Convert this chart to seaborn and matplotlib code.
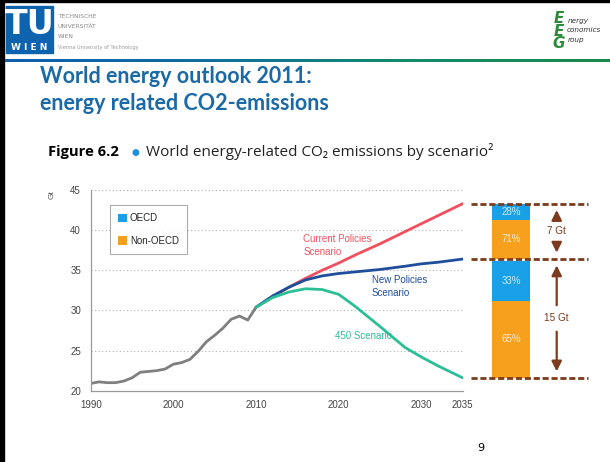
import numpy as np
import pandas as pd
import matplotlib
matplotlib.use("Agg")
import matplotlib.pyplot as plt
from matplotlib.patches import Rectangle, Patch
import seaborn as sns

# ---- data (Gt CO2) ----
hist_years = list(range(1990, 2011))
hist_values = [20.9, 21.1, 21.0, 21.0, 21.2, 21.6, 22.3, 22.4, 22.5, 22.7, 23.3,
               23.5, 23.9, 24.9, 26.1, 26.9, 27.8, 28.9, 29.3, 28.8, 30.4]

scen_years = [2010, 2012, 2014, 2016, 2018, 2020, 2022, 2025, 2028, 2030, 2032, 2035]
current_policies = [30.4, 31.7, 32.9, 34.0, 35.0, 35.9, 36.9, 38.3, 39.8, 40.8, 41.8, 43.3]
new_policies = [30.4, 31.8, 32.9, 33.8, 34.3, 34.6, 34.8, 35.1, 35.5, 35.8, 36.0, 36.4]
scenario_450 = [30.4, 31.6, 32.3, 32.7, 32.6, 32.0, 30.5, 28.0, 25.4, 24.2, 23.1, 21.6]

scenario_names = ["Current Policies\nScenario", "New Policies\nScenario", "450 Scenario"]
scenario_colors = ["#f0505e", "#1f4e9c", "#2bbf96"]

# regional split of the 2035 gaps (percent)
upper_gap_shares = {"OECD": 28, "Non-OECD": 71}
lower_gap_shares = {"OECD": 33, "Non-OECD": 65}
region_colors = {"OECD": "#1aa0e6", "Non-OECD": "#f7a01e"}

y_ticks = [20, 25, 30, 35, 40, 45]
x_labels = [1990, 2000, 2010, 2020, 2030, 2035]

# ---- figure ----
sns.set_theme(style="white")
narrow = ["Liberation Sans", "DejaVu Sans"]
plt.rcParams["font.family"] = ["DejaVu Sans"]

W, H = 610, 462
fig = plt.figure(figsize=(W / 100, H / 100), dpi=100)
fig.patch.set_facecolor("white")

# slide decoration layer in pixel coordinates
deco = fig.add_axes([0, 0, 1, 1])
deco.axis("off")

deco.add_patch(Rectangle((0, 0), W, 2.2, color="black"))
deco.add_patch(Rectangle((0, 0), 4, H, color="black"))

# TU Wien logo
deco.add_patch(Rectangle((6, 6), 47, 47, color="#0d63ad"))
deco.text(29.5, 24, "TU", color="white", fontsize=24, fontweight="bold",
          ha="center", va="center", family=["DejaVu Sans"])
deco.text(29.5, 47.5, "W I E N", color="white", fontsize=6.5, fontweight="bold",
          ha="center", va="center")
for ty, s in [(16.5, "TECHNISCHE"), (26, "UNIVERSITÄT"), (37, "WIEN")]:
    deco.text(58, ty, s, color="#8a8a8a", fontsize=4.3, va="center")
deco.text(58, 47.5, "Vienna University of Technology", color="#9a9a9a",
          fontsize=3.6, va="center")

# header rule with blue-to-green gradient
grad = np.linspace(0, 1, 256).reshape(1, -1)
cmap = matplotlib.colors.LinearSegmentedColormap.from_list(
    "rule", ["#0f5fb0", "#0f6fa0", "#138a6a", "#1a8a4a"])
deco.imshow(grad, extent=[5, W, 62, 59], aspect="auto", cmap=cmap, zorder=1)
deco.set_xlim(0, W)
deco.set_ylim(H, 0)

# Energy Economics Group logo
deco.text(559, 31, "E\nE\nG", color="#2e8b3a", fontsize=11, fontweight="bold",
          style="italic", ha="center", va="center", linespacing=0.78)
deco.text(568, 21, "nergy", color="#333", fontsize=5.2, style="italic", va="center")
deco.text(567, 30.5, "conomics", color="#333", fontsize=5.2, style="italic", va="center")
deco.text(568, 40, "roup", color="#333", fontsize=5.2, style="italic", va="center")

# slide title
title_font = dict(color="#1b6aa5", fontsize=15.5, fontweight="bold", va="center",
                  family=["Lato", "DejaVu Sans"])
deco.text(40, 76.5, "World energy outlook 2011:", **title_font)
deco.text(40, 103, "energy related CO2-emissions", **title_font)

# figure caption
deco.text(48, 156, "Figure 6.2", color="black", fontsize=10.6, fontweight="bold",
          va="baseline", family=["Open Sans", "DejaVu Sans"])
deco.text(135, 152.5, "\u25CF", color="#1a8fd8", fontsize=6.5, va="center",
          ha="center", family=["DejaVu Sans"])
deco.text(146.5, 156, "World energy-related CO\u2082 emissions by scenario\u00B2",
          color="#222", fontsize=11, va="baseline",
          family=["Open Sans", "DejaVu Sans"])

# page number
deco.text(481, 448, "9", color="black", fontsize=8, ha="center", va="center")

# ---- main chart ----
x0, x1 = 90.7, 462.7
yb, yt = 390.7, 190.0
ax = fig.add_axes([x0 / W, 1 - yb / H, (x1 - x0) / W, (yb - yt) / H])
ax.set_facecolor("none")

hist_df = pd.DataFrame({"year": hist_years, "Gt": hist_values})
scen_df = pd.DataFrame({
    "year": scen_years * 3,
    "Gt": current_policies + new_policies + scenario_450,
    "scenario": sum([[n] * len(scen_years) for n in scenario_names], []),
})

sns.lineplot(data=hist_df, x="year", y="Gt", ax=ax, color="#7f7f7f", lw=2.0,
             legend=False)
sns.lineplot(data=scen_df, x="year", y="Gt", hue="scenario", ax=ax,
             palette=dict(zip(scenario_names, scenario_colors)), lw=2.0,
             legend=False, sort=False)

ax.set_xlim(1990, 2035)
ax.set_ylim(20, 45)
ax.set_xlabel("")
ax.set_ylabel("")
ax.set_xticks(range(1990, 2036, 5))
ax.set_xticklabels([str(y) if y in x_labels else "" for y in range(1990, 2036, 5)])
ax.set_yticks(y_ticks)
ax.set_yticklabels([str(v) for v in y_ticks])
for lab in ax.get_xticklabels() + ax.get_yticklabels():
    lab.set_family(narrow)
    lab.set_fontsize(7)
    lab.set_color("#444444")
ax.tick_params(axis="x", direction="in", length=4, width=0.8, color="#888888", pad=7)
ax.tick_params(axis="y", direction="out", length=5, width=0.8, color="#888888", pad=2)
for side in ["top", "right"]:
    ax.spines[side].set_visible(False)
for side in ["left", "bottom"]:
    ax.spines[side].set_color("#999999")
    ax.spines[side].set_linewidth(0.9)
for v in y_ticks[1:]:
    ax.axhline(v, color="#b0b0b0", lw=0.8, ls=(0, (1, 2.2)), zorder=0)

ax.text(-0.105, 0.975, "Gt", transform=ax.transAxes, rotation=90, fontsize=6,
        color="#555", family=narrow, ha="center", va="center")

# scenario labels
label_font = dict(fontsize=7, family=narrow, va="center", linespacing=1.4)
ax.text(2015.7, 38.1, scenario_names[0], color=scenario_colors[0], **label_font)
ax.text(2024.0, 33.0, scenario_names[1], color=scenario_colors[1], **label_font)
ax.text(2019.5, 26.8, scenario_names[2], color=scenario_colors[2], **label_font)

# legend
handles = [Patch(facecolor=region_colors[k], edgecolor="none", label=k)
           for k in ["OECD", "Non-OECD"]]
leg = ax.legend(handles=handles, loc="upper left", bbox_to_anchor=(0.0515, 0.925),
                frameon=True, fancybox=False, borderaxespad=0, handlelength=0.95,
                handleheight=0.95, handletextpad=0.25, labelspacing=1.3,
                borderpad=0.85, prop={"family": narrow, "size": 7})
leg.get_frame().set_edgecolor("#999999")
leg.get_frame().set_linewidth(0.8)

# ---- 2035 gap bars ----
x2 = 600.0
ax2 = fig.add_axes([x1 / W, 1 - yb / H, (x2 - x1) / W, (yb - yt) / H])
ax2.set_xlim(0, x2 - x1)
ax2.set_ylim(20, 45)
ax2.axis("off")

top, mid, low = current_policies[-1], new_policies[-1], scenario_450[-1]
brown = "#7b3b1c"
for lvl in (top, mid, low):
    ax2.plot([8, 125.5], [lvl, lvl], color=brown, lw=2.0, ls=(0, (2.2, 1.0)),
             solid_capstyle="butt", dash_capstyle="butt")

bar_x, bar_w = 48.5, 37.5
for base, gap, shares in [(mid, top - mid, upper_gap_shares),
                          (low, mid - low, lower_gap_shares)]:
    b = base
    for region in ["Non-OECD", "OECD"]:
        h = gap * shares[region] / 100
        ax2.bar(bar_x, h, bottom=b, width=bar_w, color=region_colors[region],
                edgecolor="none")
        ax2.text(bar_x, b + h / 2, f"{shares[region]}%", color="white", alpha=0.8,
                 fontsize=7, family=narrow, ha="center", va="center")
        b += h

    # gap arrows and label
    centre = base + gap / 2
    arrow_x = 94
    ax2.text(arrow_x, centre, f"{round(gap):.0f} Gt", color=brown, fontsize=7.2,
             family=narrow, ha="center", va="center")
    off = 1.1 if gap < 10 else 1.3
    for tip, start in [(base + gap - 0.45, centre + off), (base + 0.45, centre - off)]:
        ax2.annotate("", xy=(arrow_x, tip), xytext=(arrow_x, start),
                     arrowprops=dict(arrowstyle="-|>,head_width=0.25,head_length=0.5",
                                     color=brown, lw=1.6))

fig.savefig("out.png", dpi=100, facecolor="white")
